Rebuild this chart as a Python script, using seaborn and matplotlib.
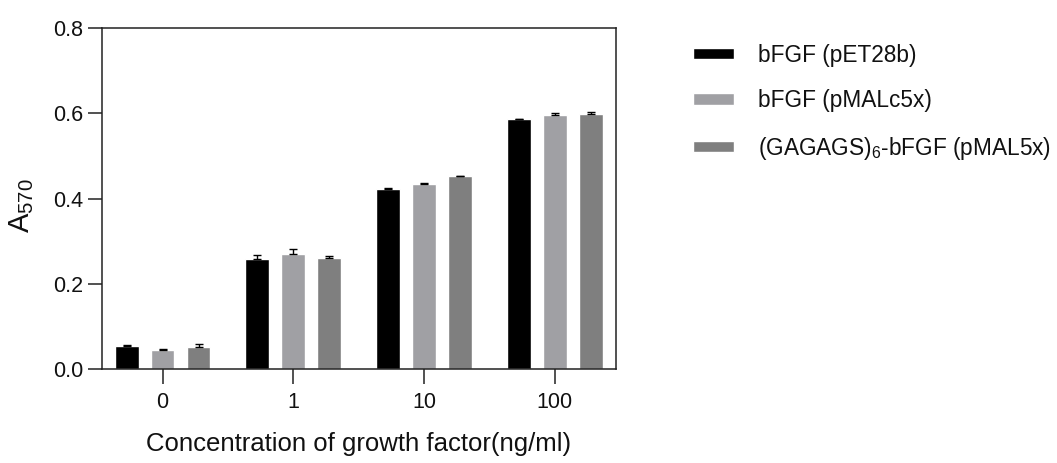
import numpy as np
import pandas as pd
import matplotlib
matplotlib.use("Agg")
import matplotlib.pyplot as plt
import seaborn as sns

# values
concentrations = ["0", "1", "10", "100"]
series_names = ["bFGF (pET28b)", "bFGF (pMALc5x)", r"(GAGAGS)$_6$-bFGF (pMAL5x)"]
pet28b_mean = [0.055, 0.258, 0.422, 0.586]
pmalc5x_mean = [0.045, 0.271, 0.435, 0.597]
gagags_mean = [0.052, 0.262, 0.453, 0.598]
pet28b_err = [0.002, 0.009, 0.002, 0.001]
pmalc5x_err = [0.002, 0.011, 0.002, 0.003]
gagags_err = [0.007, 0.003, 0.001, 0.006]
colors = ["#000000", "#a0a0a4", "#7f7f7f"]

means = [pet28b_mean, pmalc5x_mean, gagags_mean]
errs = [pet28b_err, pmalc5x_err, gagags_err]

rows = []
for name, m in zip(series_names, means):
    for c, v in zip(concentrations, m):
        rows.append({"conc": c, "series": name, "A570": v})
df = pd.DataFrame(rows)

sns.set_style("ticks")
plt.rcParams["font.family"] = ["Liberation Sans", "DejaVu Sans"]
plt.rcParams["mathtext.default"] = "regular"
plt.rcParams["text.color"] = "#111111"
plt.rcParams["axes.labelcolor"] = "#111111"
plt.rcParams["xtick.labelcolor"] = "#111111"
plt.rcParams["ytick.labelcolor"] = "#111111"

fig = plt.figure(figsize=(10.57, 4.63), dpi=100)
ax = fig.add_axes([0.0965, 0.2024, 0.4863, 0.7371])

sns.barplot(data=df, x="conc", y="A570", hue="series", order=concentrations,
            hue_order=series_names, palette=colors, width=0.825, gap=0.335,
            errorbar=None, ax=ax, legend=False, saturation=1)
bar_groups = list(ax.containers)

# upper-only error bars like the original
for cont, e in zip(bar_groups, errs):
    xs = [p.get_x() + p.get_width() / 2 for p in cont]
    hs = [p.get_height() for p in cont]
    ax.errorbar(xs, hs, yerr=[np.zeros(len(e)), e], fmt="none", ecolor="black",
                elinewidth=1, capsize=3.2, capthick=1)

ax.set_xlim(-0.463, 3.468)
ax.set_ylim(0, 0.8)
ax.set_yticks([0, 0.2, 0.4, 0.6, 0.8])
ax.set_yticklabels(["0.0", "0.2", "0.4", "0.6", "0.8"])
for s in ax.spines.values():
    s.set_visible(True)
    s.set_color("#222222")
    s.set_linewidth(1.1)
ax.tick_params(axis="y", length=10, width=1.1, pad=3.5, labelsize=15.5, color="#222222")
ax.tick_params(axis="x", length=11, width=1.1, pad=5.5, labelsize=15.5, color="#222222")

ax.set_xlabel("Concentration of growth factor(ng/ml)", fontsize=18.5)
ax.xaxis.set_label_coords(0.5, -0.185)
ax.set_ylabel(r"A$_{570}$", fontsize=21)
ax.yaxis.set_label_coords(-0.128, 0.48)

ax.legend(handles=bar_groups, labels=series_names, loc="upper left",
          bbox_to_anchor=(0.656, 0.906), bbox_transform=fig.transFigure,
          frameon=False, fontsize=16.3, handlelength=1.8, handleheight=0.4,
          handletextpad=1.05, labelspacing=1.0, borderpad=0, borderaxespad=0)

fig.savefig("out.png", dpi=100)
